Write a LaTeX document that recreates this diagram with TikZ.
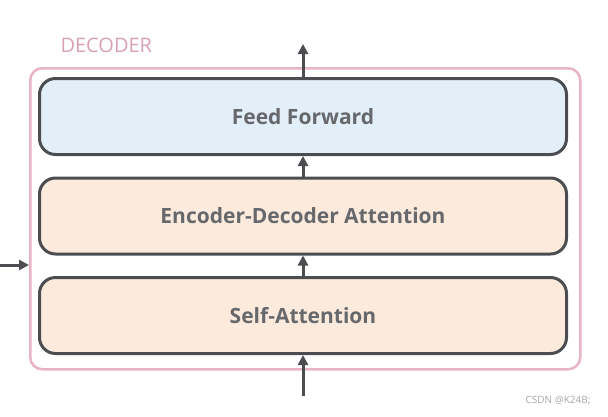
\documentclass[tikz,border=0pt]{standalone}
\usepackage{fontspec}
\setmainfont{Open Sans}
\definecolor{decoderPink}{HTML}{E9B3C6}
\definecolor{decoderText}{HTML}{D8A2B4}
\definecolor{layerGray}{HTML}{4B4D51}
\definecolor{ffBlue}{HTML}{E2EFF9}
\definecolor{attnPeach}{HTML}{FCEADC}
\usetikzlibrary{arrows.meta, positioning}

\begin{document}
\begin{tikzpicture}[x=1pt, y=-1pt]
                \tikzset{
                    layer/.style={rectangle, draw=layerGray, line width=3pt, rounded corners=16pt,
                        minimum width=527pt, minimum height=76pt, inner sep=0pt,
                        font=\fontsize{21}{24}\selectfont\bfseries, text=layerGray!85},
                    flow/.style={draw=layerGray, line width=3pt, -{Triangle[length=10pt, width=10pt]}},
                }
                \useasboundingbox (0,0) rectangle (608,416);

                % Decoder frame
                \node[rectangle, draw=decoderPink, line width=2.5pt, rounded corners=12pt,
                    minimum width=550pt, minimum height=301pt, anchor=north west] (decoder) at (29,67) {};
                \node[font=\fontsize{20}{22}\selectfont, text=decoderText, anchor=south west] (dectitle) at (57,56) {DECODER};

                % Layers
                \node[layer, fill=ffBlue] (ff) at (303,116.5) {Feed Forward};
                \node[layer, fill=attnPeach, below=20.5pt of ff] (encdec) {Encoder-Decoder Attention};
                \node[layer, fill=attnPeach, below=20.5pt of encdec] (selfattn) {Self-Attention};

                % Arrows
                \coordinate (input) at (303,396);
                \coordinate (output) at (303,44);
                \coordinate (encout) at (0,265);
                \draw[flow] (input) -- (selfattn.south);
                \draw[flow] (selfattn.north) -- (encdec.south);
                \draw[flow] (encdec.north) -- (ff.south);
                \draw[flow] (ff.north) -- (output);
                \draw[flow] (encout) -- (encout -| decoder.west);

                % Watermark
                \node[font=\fontsize{10}{12}\selectfont, text=gray!70, anchor=east] (mark) at (594,401) {CSDN @K24B;};
            \end{tikzpicture}
\end{document}
